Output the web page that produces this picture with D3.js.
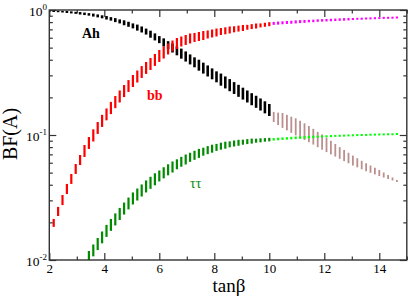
<!DOCTYPE html>
<html>
<head>
<meta charset="utf-8">
<script src="https://cdn.jsdelivr.net/npm/d3@7"></script>
<style>
  body { margin: 0; background: #fff; }
  svg { display: block; }
</style>
</head>
<body>
<div id="chart"></div>
<script>
// tan(beta) scan points
const tanb = [
  2.00, 2.16, 2.32, 2.48, 2.64, 2.80, 2.96, 3.12, 3.28, 3.44,
  3.60, 3.76, 3.92, 4.08, 4.24, 4.40, 4.56, 4.72, 4.88, 5.04,
  5.20, 5.36, 5.52, 5.68, 5.84, 6.00, 6.16, 6.32, 6.48, 6.64,
  6.80, 6.96, 7.12, 7.28, 7.44, 7.60, 7.76, 7.92, 8.08, 8.24,
  8.40, 8.56, 8.72, 8.88, 9.04, 9.20, 9.36, 9.52, 9.68, 9.84,
  10.00, 10.16, 10.32, 10.48, 10.64, 10.80, 10.96, 11.12, 11.28, 11.44,
  11.60, 11.76, 11.92, 12.08, 12.24, 12.40, 12.56, 12.72, 12.88, 13.04,
  13.20, 13.36, 13.52, 13.68, 13.84, 14.00, 14.16, 14.32, 14.48, 14.64
];

// BF(A -> Ah) band
const ahHi = [
  .996, .993, .989, .984, .982, .975, .967, .963, .954, .944,
  .936, .922, .907, .895, .877, .861, .841, .827, .805, .781,
  .764, .738, .710, .683, .650, .618, .593, .563, .540, .512,
  .491, .466, .441, .418, .400, .379, .360, .341, .323, .310,
  .294, .280, .265, .252, .239, .227, .216, .206, .196, .186,
  .177, .153, .151, .150, .145, .140, .136, .130, .124, .118,
  .112, .106, .101, .0953, .0899, .0847, .0800, .0759, .0721, .0684,
  .0652, .0622, .0594, .0570, .0547, .0525, .0501, .0479, .0457, .0437
];
const ahLo = [
  .967, .964, .960, .955, .946, .939, .932, .920, .911, .901,
  .886, .873, .858, .839, .822, .800, .781, .755, .734, .713,
  .684, .661, .636, .600, .571, .543, .511, .486, .457, .434,
  .408, .387, .367, .348, .327, .310, .294, .279, .264, .248,
  .236, .224, .213, .202, .192, .182, .173, .165, .157, .149,
  .142, .127, .120, .114, .109, .104, .0993, .0951, .0912, .0876,
  .0838, .0799, .0763, .0730, .0700, .0672, .0645, .0618, .0594, .0570,
  .0551, .0532, .0513, .0498, .0484, .0470, .0457, .0445, .0433, .0421
];

// BF(A -> bb) band
const bbHi = [
  null, .0213, .0266, .0331, .0406, .0488, .0586, .0692, .0832, .0964,
  .111, .127, .145, .163, .184, .205, .227, .251, .275, .302,
  .328, .356, .384, .413, .445, .479, .511, .540, .570, .597,
  .614, .631, .649, .655, .667, .679, .686, .698, .711, .718,
  .727, .738, .741, .750, .759, .761, .771, .780, .781, .790,
  .799, .803, .808, .812, .817, .821, .826, .830, .833, .834,
  .837, .842, .845, .848, .851, .854, .857, .861, .864, .863,
  .866, .868, .871, .873, .876, .877, .881, .882, .884, .887
];
const bbLo = [
  null, .0184, .0225, .0275, .0337, .0406, .0488, .0575, .0667, .0773,
  .0887, .102, .116, .131, .147, .164, .182, .201, .221, .242,
  .263, .286, .308, .331, .357, .384, .409, .441, .466, .488,
  .511, .525, .540, .555, .565, .575, .592, .603, .614, .631,
  .639, .649, .663, .672, .679, .695, .704, .711, .726, .734,
  .742, .760, .764, .769, .773, .777, .781, .786, .789, .797,
  .799, .804, .807, .810, .813, .816, .819, .822, .825, .832,
  .835, .836, .840, .841, .844, .846, .849, .851, .852, .855
];

// BF(A -> tau tau) band
const ttHi = [
  null, null, null, null, null, null, null, null, null, .0118,
  .0133, .0150, .0169, .0191, .0213, .0236, .0261, .0288, .0316, .0347,
  .0373, .0402, .0433, .0463, .0494, .0520, .0552, .0583, .0614, .0639,
  .0669, .0698, .0721, .0748, .0774, .0791, .0815, .0836, .0849, .0868,
  .0884, .0890, .0904, .0915, .0917, .0927, .0936, .0934, .0941, .0944,
  .0949, .0945, .0951, .0956, .0961, .0967, .0972, .0975, .0979, .0985,
  .0988, .0987, .0991, .0995, .0998, .1002, .1004, .1007, .1011, .1013,
  .1017, .1019, .1020, .1024, .1026, .1028, .1030, .1031, .1033, .1038
];
const ttLo = [
  null, null, null, null, null, null, null, null, null, .00946,
  .0107, .0120, .0136, .0153, .0171, .0189, .0209, .0231, .0254, .0278,
  .0299, .0322, .0347, .0371, .0396, .0425, .0450, .0476, .0501, .0532,
  .0557, .0581, .0610, .0633, .0656, .0683, .0703, .0722, .0746, .0763,
  .0777, .0797, .0809, .0820, .0836, .0846, .0854, .0868, .0874, .0885,
  .0890, .0903, .0908, .0913, .0918, .0923, .0928, .0932, .0935, .0940,
  .0944, .0952, .0955, .0959, .0962, .0966, .0967, .0971, .0975, .0976,
  .0980, .0982, .0984, .0987, .0989, .0991, .0993, .0995, .0996, .1000
];

const xMajor = [2, 4, 6, 8, 10, 12, 14];
const xMinor = [3, 5, 7, 9, 11, 13, 15];
const yMajor = [0.01, 0.1, 1];
const yExp = ["-2", "-1", "0"];
const tanbSplit = 10;

const series = [
  { name: "Ah", hi: ahHi, lo: ahLo, colors: ["#000000", "#bc8f8f"], widths: [2.6, 1.8] },
  { name: "bb", hi: bbHi, lo: bbLo, colors: ["#ff0000", "#ff00ff"], widths: [2.2, 2.2] },
  { name: "tt", hi: ttHi, lo: ttLo, colors: ["#008b00", "#00ff00"], widths: [2.2, 2.2] }
];

const W = 409, H = 298;
const SERIF = "Liberation Serif";

const svg = d3.select("#chart").append("svg")
  .attr("width", W).attr("height", H)
  .style("background", "#fff");

const x = d3.scaleLinear().domain([2, 15]).range([49.3, 406.8]);
const y = d3.scaleLog().domain([0.01, 1]).range([260, 10]);

svg.append("defs").append("clipPath").attr("id", "plot")
  .append("rect").attr("x", 49.3).attr("y", 10).attr("width", 357.5).attr("height", 250);

// bars
const plot = svg.append("g").attr("clip-path", "url(#plot)");
series.forEach(s => {
  const pts = tanb.map((t, i) => ({ t, hi: s.hi[i], lo: s.lo[i] }))
    .filter(d => d.hi != null);
  plot.append("g").selectAll("rect")
    .data(pts)
    .join("rect")
    .attr("x", d => x(d.t) - (d.t > tanbSplit ? s.widths[1] : s.widths[0]) / 2)
    .attr("width", d => d.t > tanbSplit ? s.widths[1] : s.widths[0])
    .attr("y", d => y(d.hi))
    .attr("height", d => Math.max(y(d.lo) - y(d.hi), 1.6))
    .attr("fill", d => d.t > tanbSplit ? s.colors[1] : s.colors[0]);
});

// axes (ticks inward on all four sides)
const axisColor = "#333";
function styleAxis(g) {
  g.select(".domain").remove();
  g.selectAll("line").attr("stroke", axisColor).attr("stroke-width", 1.2);
}
svg.append("g").attr("transform", "translate(0,260)")
  .call(d3.axisBottom(x).tickValues(xMajor).tickSize(-7).tickPadding(4).tickFormat(d3.format("d")))
  .call(styleAxis)
  .call(g => g.selectAll("text")
    .style("font-family", SERIF).style("font-size", "13px").attr("fill", "#000"));
svg.append("g").attr("transform", "translate(0,260)")
  .call(d3.axisBottom(x).tickValues(xMinor).tickSize(-3.5).tickFormat(""))
  .call(styleAxis);
svg.append("g").attr("transform", "translate(0,10)")
  .call(d3.axisTop(x).tickValues(xMajor).tickSize(-7).tickFormat(""))
  .call(styleAxis);
svg.append("g").attr("transform", "translate(0,10)")
  .call(d3.axisTop(x).tickValues(xMinor).tickSize(-3.5).tickFormat(""))
  .call(styleAxis);

const yMinor = [];
[0.01, 0.1].forEach(dec => d3.range(2, 10).forEach(k => yMinor.push(dec * k)));
svg.append("g").attr("transform", "translate(49.3,0)")
  .call(d3.axisLeft(y).tickValues(yMajor).tickSize(-7).tickFormat(""))
  .call(styleAxis);
svg.append("g").attr("transform", "translate(49.3,0)")
  .call(d3.axisLeft(y).tickValues(yMinor).tickSize(-3.5).tickFormat(""))
  .call(styleAxis);
svg.append("g").attr("transform", "translate(406.8,0)")
  .call(d3.axisRight(y).tickValues(yMajor).tickSize(-7).tickFormat(""))
  .call(styleAxis);
svg.append("g").attr("transform", "translate(406.8,0)")
  .call(d3.axisRight(y).tickValues(yMinor).tickSize(-3.5).tickFormat(""))
  .call(styleAxis);

// frame
svg.append("rect")
  .attr("x", 49.3).attr("y", 10).attr("width", 357.5).attr("height", 250)
  .attr("fill", "none").attr("stroke", axisColor).attr("stroke-width", 1.4);

// y tick labels 10^n
const yl = svg.append("g").attr("fill", "#000");
yMajor.forEach((v, i) => {
  const t = yl.append("text")
    .attr("x", 47).attr("y", y(v) + 6)
    .attr("text-anchor", "end")
    .style("font-family", SERIF).style("font-size", "13.5px");
  t.append("tspan").text("10");
  t.append("tspan").style("font-size", "9px").attr("dy", -6).text(yExp[i]);
});

// axis titles
svg.append("text")
  .attr("transform", "translate(16.5,134) rotate(-90)")
  .attr("text-anchor", "middle")
  .style("font-family", SERIF).style("font-size", "20px")
  .text("BF(A)");
svg.append("text")
  .attr("x", 229).attr("y", 292)
  .attr("text-anchor", "middle")
  .style("font-family", SERIF).style("font-size", "19px")
  .text("tanβ");

// channel labels
svg.append("text").attr("x", 82).attr("y", 38)
  .style("font-family", SERIF).style("font-size", "14px").style("font-weight", "bold")
  .attr("fill", "#000").text("Ah");
svg.append("text").attr("x", 147).attr("y", 100)
  .style("font-family", SERIF).style("font-size", "14px").style("font-weight", "bold")
  .attr("fill", "#ff0000").text("bb");
svg.append("text").attr("x", 190).attr("y", 188)
  .style("font-family", SERIF).style("font-size", "14px")
  .attr("fill", "#008b00").text("ττ");
</script>
</body>
</html>
